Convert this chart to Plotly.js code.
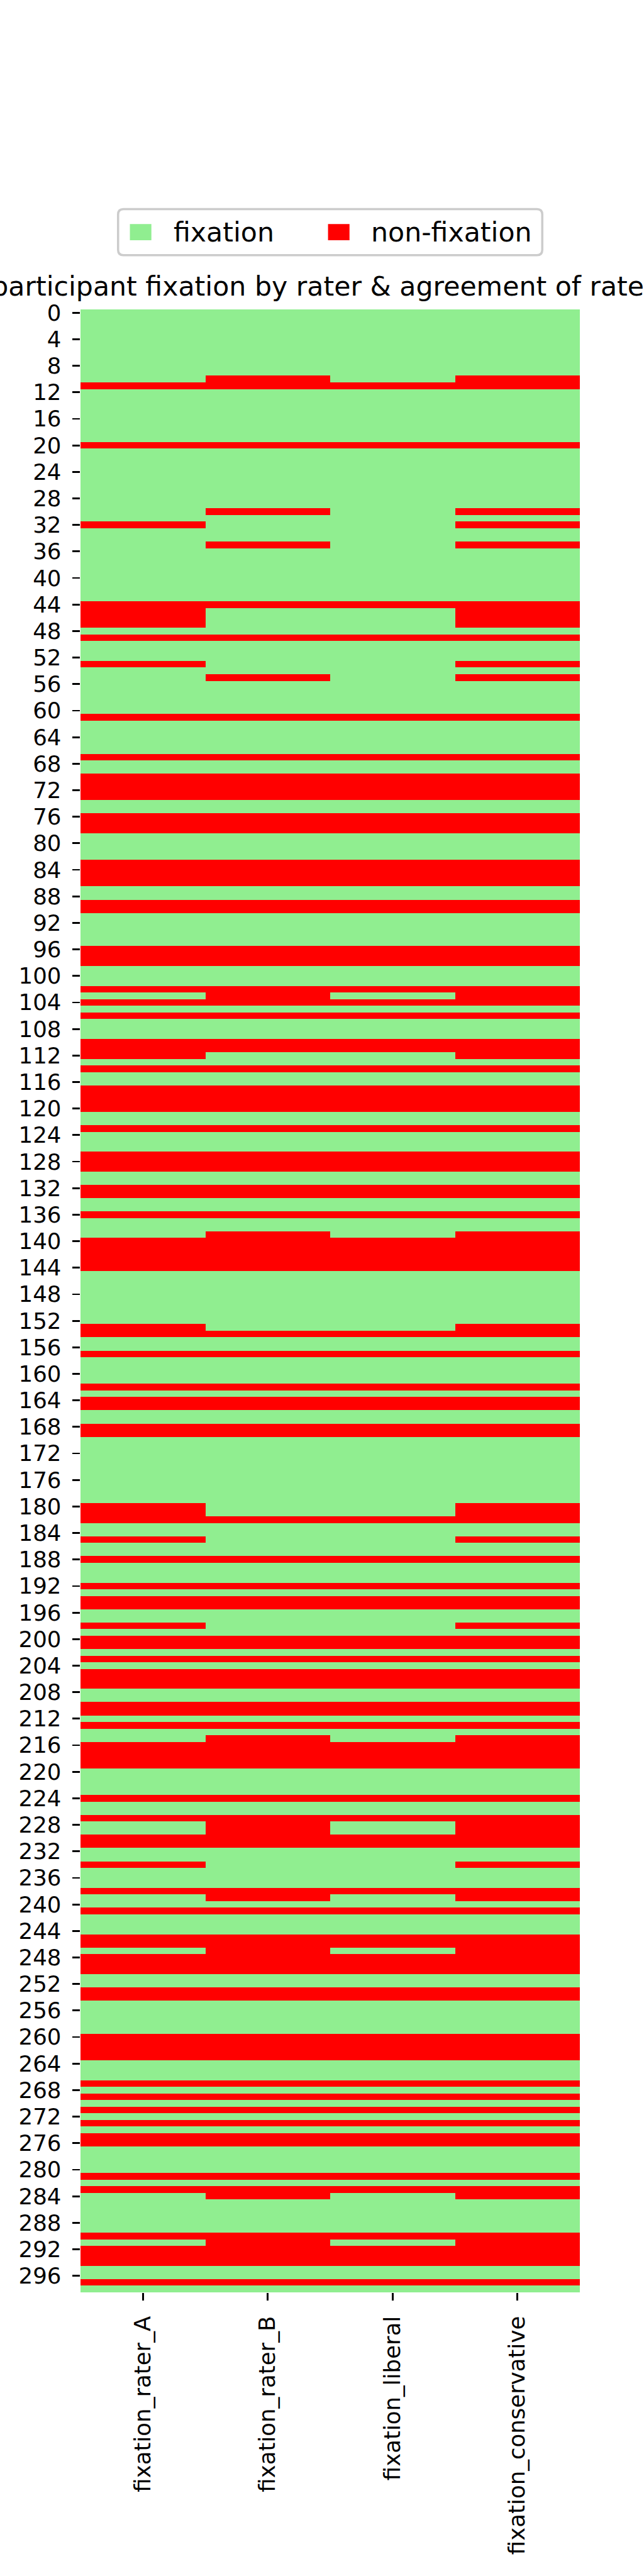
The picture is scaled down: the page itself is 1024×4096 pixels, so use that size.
<!DOCTYPE html>
<html><head><meta charset="utf-8">
<script src="https://cdn.plot.ly/plotly-3.0.1.min.js"></script>
<style>html,body{margin:0;padding:0;background:#fff;} #chart{width:1024px;height:4096px;}</style>
</head><body><div id="chart"></div>
<script>
// ---- data (row indices of participants rated "non-fixation" in each column) ----
const columns = ["fixation_rater_A", "fixation_rater_B", "fixation_liberal", "fixation_conservative"];
const nParticipants = 299;
const nonFixRaterA = [11,20,32,44,45,46,47,49,53,61,67,70,71,72,73,76,77,78,83,84,85,86,89,90,96,97,98,102,104,106,110,111,112,114,117,118,119,120,123,127,128,129,132,133,136,140,141,142,143,144,153,154,157,162,164,165,168,169,180,181,182,185,188,192,194,195,198,200,201,203,205,206,207,210,211,213,216,217,218,219,224,227,230,231,234,238,241,245,246,248,249,250,253,254,260,261,262,263,267,269,271,273,275,276,281,283,290,292,293,294,297];
const nonFixRaterB = [10,11,20,30,35,44,49,55,61,67,70,71,72,73,76,77,78,83,84,85,86,89,90,96,97,98,102,103,104,106,110,111,114,117,118,119,120,123,127,128,129,132,133,136,139,140,141,142,143,144,154,157,162,164,165,168,169,182,188,192,194,195,200,201,203,205,206,207,210,211,213,215,216,217,218,219,224,227,228,229,230,231,238,239,241,245,246,247,248,249,250,253,254,260,261,262,263,267,269,271,273,275,276,281,283,284,290,291,292,293,294,297];
const nonFixLiberal = [11,20,44,49,61,67,70,71,72,73,76,77,78,83,84,85,86,89,90,96,97,98,102,104,106,110,111,114,117,118,119,120,123,127,128,129,132,133,136,140,141,142,143,144,154,157,162,164,165,168,169,182,188,192,194,195,200,201,203,205,206,207,210,211,213,216,217,218,219,224,227,230,231,238,241,245,246,248,249,250,253,254,260,261,262,263,267,269,271,273,275,276,281,283,290,292,293,294,297];
const nonFixConservative = [10,11,20,30,32,35,44,45,46,47,49,53,55,61,67,70,71,72,73,76,77,78,83,84,85,86,89,90,96,97,98,102,103,104,106,110,111,112,114,117,118,119,120,123,127,128,129,132,133,136,139,140,141,142,143,144,153,154,157,162,164,165,168,169,180,181,182,185,188,192,194,195,198,200,201,203,205,206,207,210,211,213,215,216,217,218,219,224,227,228,229,230,231,234,238,239,241,245,246,247,248,249,250,253,254,260,261,262,263,267,269,271,273,275,276,281,283,284,290,291,292,293,294,297];
const legendLabels = ["fixation", "non-fixation"];
const legendColors = ["#90ee90", "#ff0000"];
const titleText = "participant fixation by rater & agreement of raters";

// ---- build matrix: 1 = fixation, 0 = non-fixation ----
const nonFixSets = [nonFixRaterA, nonFixRaterB, nonFixLiberal, nonFixConservative].map(a => new Set(a));
const yIdx = [], z = [];
for (let i = 0; i < nParticipants; i++) {
  yIdx.push(i);
  z.push(nonFixSets.map(s => s.has(i) ? 0 : 1));
}

// ---- geometry (reference px * scale) ----
const W = 1024, H = 4096, S = 1024 / 1200;
const L = 150 * S, R = 1080 * S, T = 576 * S, B = 4272 * S;
const pw = R - L, ph = B - T;
const px = v => (v * S - L) / pw;          // reference x px -> paper
const py = v => (B - v * S) / ph;          // reference y px -> paper

const FONT = "DejaVu Sans";
const tickFont = 41.67 * S, bigFont = 50 * S;

const trace = {
  type: "heatmap", x: columns, y: yIdx, z: z,
  zmin: 0, zmax: 1,
  colorscale: [[0, legendColors[1]], [0.5, legendColors[1]], [0.5, legendColors[0]], [1, legendColors[0]]],
  showscale: false, hoverinfo: "skip", xgap: 0, ygap: 0
};

// legend box (reference px)
const lb = {x0: 220, x1: 1010, y0: 389, y1: 475, r: 10};
function rr(b) {
  const X = px, Y = py, r = b.r;
  const rxp = v => X(v), ryp = v => Y(v);
  return `M ${rxp(b.x0 + r)},${ryp(b.y0)} L ${rxp(b.x1 - r)},${ryp(b.y0)} Q ${rxp(b.x1)},${ryp(b.y0)} ${rxp(b.x1)},${ryp(b.y0 + r)} ` +
         `L ${rxp(b.x1)},${ryp(b.y1 - r)} Q ${rxp(b.x1)},${ryp(b.y1)} ${rxp(b.x1 - r)},${ryp(b.y1)} ` +
         `L ${rxp(b.x0 + r)},${ryp(b.y1)} Q ${rxp(b.x0)},${ryp(b.y1)} ${rxp(b.x0)},${ryp(b.y1 - r)} ` +
         `L ${rxp(b.x0)},${ryp(b.y0 + r)} Q ${rxp(b.x0)},${ryp(b.y0)} ${rxp(b.x0 + r)},${ryp(b.y0)} Z`;
}
const legCy = 432;
const patchX = [[242, 282], [611, 651]];
const textX = [321, 689];
const shapes = [
  {type: "path", xref: "paper", yref: "paper", path: rr(lb), fillcolor: "rgba(255,255,255,0.8)", line: {color: "#cccccc", width: 4.17 * S}}
];
const annotations = [];
legendLabels.forEach((lab, k) => {
  shapes.push({type: "rect", xref: "paper", yref: "paper",
    x0: px(patchX[k][0]), x1: px(patchX[k][1]), y0: py(legCy - 15), y1: py(legCy + 15),
    fillcolor: legendColors[k], line: {width: 0}});
  annotations.push({xref: "paper", yref: "paper", x: px(textX[k]), y: py(legCy), xanchor: "left", yanchor: "middle",
    text: lab, showarrow: false, font: {family: FONT, size: bigFont, color: "#000"}});
});

const axCommon = {
  ticks: "outside", ticklen: 14.6 * S, tickwidth: 3.3 * S, tickcolor: "#000",
  tickfont: {family: FONT, size: tickFont, color: "#000"},
  showgrid: false, zeroline: false, showline: false, ticklabelstandoff: 10
};

const layout = {
  width: W, height: H,
  margin: {l: L, r: W - R, t: T, b: H - B, pad: 0},
  paper_bgcolor: "#fff", plot_bgcolor: "#fff",
  font: {family: FONT, color: "#000"},
  title: {text: titleText, font: {family: FONT, size: bigFont, color: "#000"},
          xref: "paper", x: 0.5, xanchor: "center", yref: "container", y: (H - 551 * S) / H, yanchor: "bottom"},
  xaxis: Object.assign({}, axCommon, {type: "category", tickangle: -90}),
  yaxis: Object.assign({}, axCommon, {range: [nParticipants - 0.5, -0.5], tick0: 0, dtick: 4}),
  shapes: shapes, annotations: annotations, showlegend: false
};

Plotly.newPlot("chart", [trace], layout, {staticPlot: true, displayModeBar: false});
</script>
</body></html>
